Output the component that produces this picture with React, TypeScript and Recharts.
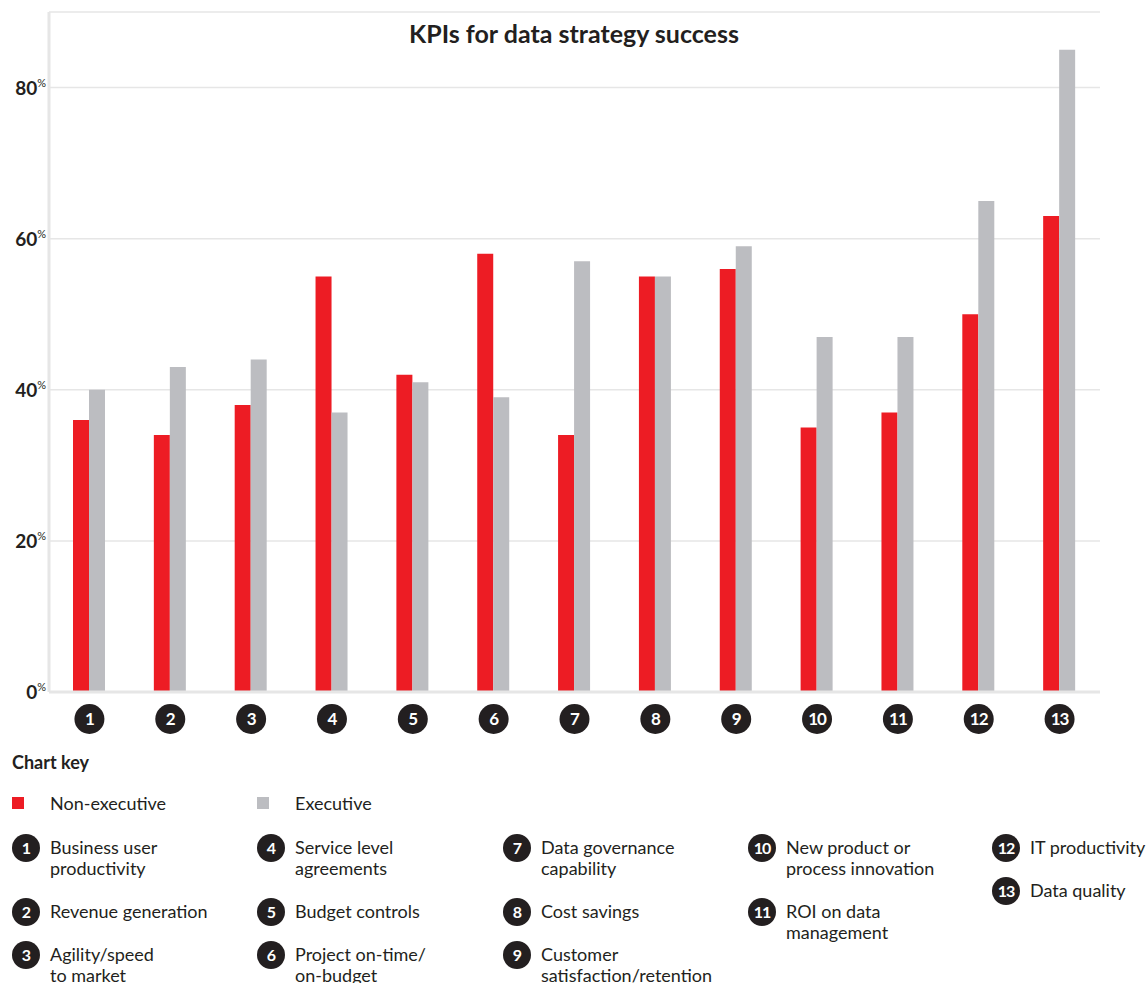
import React from "react";
import { BarChart, Bar, XAxis, YAxis, CartesianGrid } from "recharts";

const kpiNumbers = ["1", "2", "3", "4", "5", "6", "7", "8", "9", "10", "11", "12", "13"];
const nonExecutive = [36, 34, 38, 55, 42, 58, 34, 55, 56, 35, 37, 50, 63];
const executive = [40, 43, 44, 37, 41, 39, 57, 55, 59, 47, 47, 65, 85];
const yTicks = [0, 20, 40, 60, 80];
const kpiLabels = [
  ["Business user", "productivity"],
  ["Revenue generation"],
  ["Agility/speed", "to market"],
  ["Service level", "agreements"],
  ["Budget controls"],
  ["Project on-time/", "on-budget"],
  ["Data governance", "capability"],
  ["Cost savings"],
  ["Customer", "satisfaction/retention"],
  ["New product or", "process innovation"],
  ["ROI on data", "management"],
  ["IT productivity"],
  ["Data quality"],
];
const keyColumns = [[0, 1, 2], [3, 4, 5], [6, 7, 8], [9, 10], [11, 12]];
const keyColumnX = [12, 257, 503, 748, 992];

const RED = "#ED1C24";
const GREY = "#BCBDC1";
const INK = "#231F20";
const FONT = "Lato, 'DejaVu Sans', sans-serif";

const rows = kpiNumbers.map((n, i) => ({
  kpi: n,
  nonExecutive: nonExecutive[i],
  executive: executive[i],
}));

const PercentTick = (props: any) => {
  const { x, y, payload } = props;
  return (
    <text x={x} y={y} textAnchor="end" fill={INK} fontFamily={FONT}>
      <tspan fontSize={19} fontWeight={700} dy={7}>
        {payload.value}
      </tspan>
      <tspan fontSize={11} dy={-8}>
        %
      </tspan>
    </text>
  );
};

const NumberTick = (props: any) => {
  const { x, y, payload } = props;
  return (
    <g>
      <circle cx={x} cy={y + 27} r={15} fill={INK} />
      <text
        x={x}
        y={y + 33}
        textAnchor="middle"
        fill="#fff"
        fontFamily={FONT}
        fontWeight={700}
        fontSize={17}
        letterSpacing={-1}
      >
        {payload.value}
      </text>
    </g>
  );
};

const NumberBadge = ({ n }: { n: string }) => (
  <div
    style={{
      position: "absolute",
      left: 0,
      top: -3.5,
      width: 28,
      height: 28,
      borderRadius: 14,
      background: INK,
      color: "#fff",
      fontWeight: 700,
      fontSize: 16,
      letterSpacing: -1,
      display: "flex",
      alignItems: "center",
      justifyContent: "center",
    }}
  >
    {n}
  </div>
);

export default function App() {
  return (
    <div
      style={{
        position: "absolute",
        left: 0,
        top: 0,
        width: 1148,
        height: 983,
        background: "#fff",
        fontFamily: FONT,
        color: INK,
        overflow: "hidden",
      }}
    >
      <div
        style={{
          position: "absolute",
          left: 0,
          top: 16,
          width: 1148,
          textAlign: "center",
          fontSize: 25,
          fontWeight: 700,
          lineHeight: "34px",
        }}
      >
        KPIs for data strategy success
      </div>
      <div style={{ position: "absolute", left: 0, top: 0 }}>
        <BarChart
          width={1148}
          height={745}
          data={rows}
          margin={{ top: 12, right: 48, bottom: 0, left: 0 }}
          barSize={16}
          barGap={0}
        >
          <CartesianGrid vertical={false} stroke="#E6E6E6" strokeWidth={1.5} />
          <XAxis
            dataKey="kpi"
            height={53}
            tickSize={0}
            tickMargin={0}
            axisLine={{ stroke: "#E6E6E6", strokeWidth: 3 }}
            tick={<NumberTick />}
            interval={0}
          />
          <YAxis
            width={49}
            domain={[0, 90]}
            ticks={yTicks}
            tickSize={0}
            tickMargin={3}
            axisLine={{ stroke: "#E6E6E6", strokeWidth: 3 }}
            tick={<PercentTick />}
          />
          <Bar dataKey="nonExecutive" fill={RED} isAnimationActive={false} />
          <Bar dataKey="executive" fill={GREY} isAnimationActive={false} />
        </BarChart>
      </div>

      <div
        style={{
          position: "absolute",
          left: 12,
          top: 750,
          fontSize: 18,
          fontWeight: 700,
          lineHeight: "24px",
        }}
      >
        Chart key
      </div>

      {[
        { label: "Non-executive", color: RED, x: 12 },
        { label: "Executive", color: GREY, x: 257 },
      ].map((s) => (
        <div
          key={s.label}
          style={{
            position: "absolute",
            left: s.x,
            top: 792,
            height: 22,
            display: "flex",
            alignItems: "center",
            fontSize: 18,
          }}
        >
          <div style={{ width: 12, height: 12, background: s.color, marginRight: 26 }} />
          {s.label}
        </div>
      ))}

      {keyColumns.map((col, ci) => (
        <div
          key={ci}
          style={{
            position: "absolute",
            left: keyColumnX[ci],
            top: 837,
            display: "flex",
            flexDirection: "column",
            gap: 22,
          }}
        >
          {col.map((k) => (
            <div key={k} style={{ position: "relative", paddingLeft: 38 }}>
              <NumberBadge n={kpiNumbers[k]} />
              <div style={{ fontSize: 18, lineHeight: "21px" }}>
                {kpiLabels[k].map((line) => (
                  <div key={line} style={{ whiteSpace: "nowrap" }}>
                    {line}
                  </div>
                ))}
              </div>
            </div>
          ))}
        </div>
      ))}
    </div>
  );
}
